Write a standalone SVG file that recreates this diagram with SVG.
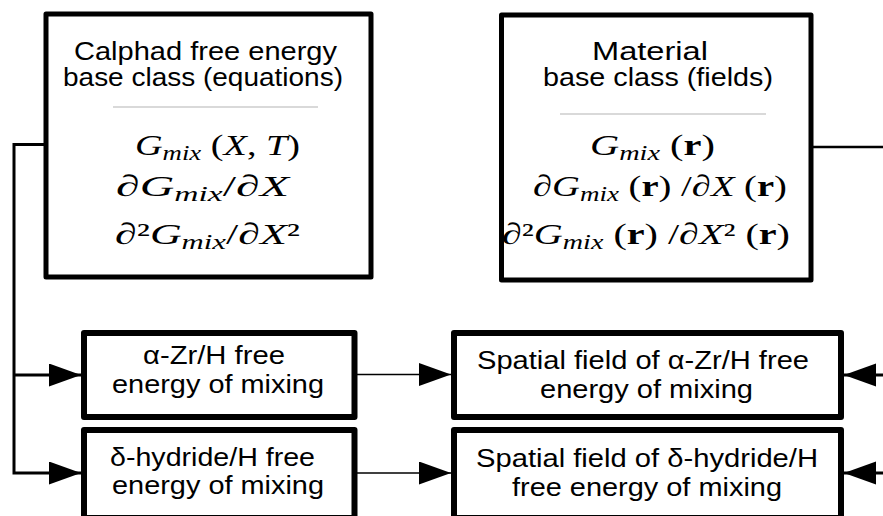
<svg xmlns="http://www.w3.org/2000/svg" width="883" height="516" viewBox="0 0 883 516">
<style>
.box{fill:#fff;stroke:#000;stroke-linejoin:round}
.t{font-family:"Liberation Sans",Arial,sans-serif;font-size:25.5px;fill:#000}
.m{font-family:"Liberation Serif","Times New Roman",serif;font-size:30px;fill:#000}
.i{font-style:italic}
.b{font-weight:bold}
.sep{stroke:#cccccc;stroke-width:1.5}
.c{fill:none;stroke:#000}
</style>
<defs>
<marker id="ah" markerUnits="userSpaceOnUse" markerWidth="32" markerHeight="24" refX="32" refY="11.5" orient="auto">
<path d="M0,0 L32,11.5 L0,23 z" fill="#000"/>
</marker>
</defs>
<g id="connectors">
<path class="c" stroke-width="3" d="M46,144.5 H14 V473 H81" marker-end="url(#ah)"/>
<path class="c" stroke-width="3" d="M14,375 H81" marker-end="url(#ah)"/>
<path class="c" stroke-width="1.5" d="M357,374.5 H451" marker-end="url(#ah)"/>
<path class="c" stroke-width="1.5" d="M357,473 H451" marker-end="url(#ah)"/>
<path class="c" stroke-width="3" d="M883,375 H844" marker-end="url(#ah)"/>
<path class="c" stroke-width="3" d="M883,473 H844" marker-end="url(#ah)"/>
<path class="c" stroke-width="2.5" d="M812,147 H883"/>
</g>
<g id="calphad">
<rect class="box" x="46" y="14" width="325" height="263" stroke-width="5"/>
<text class="t" x="74" y="60" textLength="263" lengthAdjust="spacingAndGlyphs">Calphad free energy</text>
<text class="t" x="63" y="86" textLength="280" lengthAdjust="spacingAndGlyphs">base class (equations)</text>
<line class="sep" x1="113" y1="107" x2="318" y2="107"/>
<text class="m" x="135" y="155" textLength="165" lengthAdjust="spacingAndGlyphs"><tspan class="i">G</tspan><tspan class="i" font-size="21" dy="5">mix</tspan><tspan dy="-5"> (</tspan><tspan class="i">X</tspan>, <tspan class="i">T</tspan>)</text>
<text class="m" x="116" y="196" textLength="173" lengthAdjust="spacingAndGlyphs">∂<tspan class="i">G</tspan><tspan class="i" font-size="21" dy="5">mix</tspan><tspan dy="-5">/∂</tspan><tspan class="i">X</tspan></text>
<text class="m" x="115" y="244" textLength="185" lengthAdjust="spacingAndGlyphs">∂²<tspan class="i">G</tspan><tspan class="i" font-size="21" dy="5">mix</tspan><tspan dy="-5">/∂</tspan><tspan class="i">X</tspan>²</text>
</g>
<g id="material">
<rect class="box" x="501.5" y="15" width="309.5" height="265" stroke-width="5"/>
<text class="t" x="592" y="60" textLength="116" lengthAdjust="spacingAndGlyphs">Material</text>
<text class="t" x="543" y="86" textLength="230" lengthAdjust="spacingAndGlyphs">base class (fields)</text>
<line class="sep" x1="560" y1="114" x2="766" y2="114"/>
<text class="m" x="590" y="155" textLength="125" lengthAdjust="spacingAndGlyphs"><tspan class="i">G</tspan><tspan class="i" font-size="21" dy="5">mix</tspan><tspan dy="-5"> (</tspan><tspan class="b">r</tspan>)</text>
<text class="m" x="533" y="196" textLength="254" lengthAdjust="spacingAndGlyphs">∂<tspan class="i">G</tspan><tspan class="i" font-size="21" dy="5">mix</tspan><tspan dy="-5"> (</tspan><tspan class="b">r</tspan>) /∂<tspan class="i">X</tspan> (<tspan class="b">r</tspan>)</text>
<text class="m" x="502" y="244" textLength="288" lengthAdjust="spacingAndGlyphs">∂²<tspan class="i">G</tspan><tspan class="i" font-size="21" dy="5">mix</tspan><tspan dy="-5"> (</tspan><tspan class="b">r</tspan>) /∂<tspan class="i">X</tspan>² (<tspan class="b">r</tspan>)</text>
</g>
<g id="alpha">
<rect class="box" x="84" y="333" width="270.5" height="84" stroke-width="6"/>
<text class="t" x="143" y="364" textLength="142" lengthAdjust="spacingAndGlyphs">α-Zr/H free</text>
<text class="t" x="112" y="393" textLength="212" lengthAdjust="spacingAndGlyphs">energy of mixing</text>
</g>
<g id="delta">
<rect class="box" x="84" y="430" width="270.5" height="88" stroke-width="6"/>
<text class="t" x="110" y="466" textLength="205" lengthAdjust="spacingAndGlyphs">δ-hydride/H free</text>
<text class="t" x="112" y="494" textLength="212" lengthAdjust="spacingAndGlyphs">energy of mixing</text>
</g>
<g id="spatial-alpha">
<rect class="box" x="454" y="333" width="387" height="84" stroke-width="6"/>
<text class="t" x="477" y="369" textLength="332" lengthAdjust="spacingAndGlyphs">Spatial field of α-Zr/H free</text>
<text class="t" x="540" y="398" textLength="213" lengthAdjust="spacingAndGlyphs">energy of mixing</text>
</g>
<g id="spatial-delta">
<rect class="box" x="454" y="430" width="387" height="88" stroke-width="6"/>
<text class="t" x="476" y="467" textLength="342" lengthAdjust="spacingAndGlyphs">Spatial field of δ-hydride/H</text>
<text class="t" x="512" y="496" textLength="270" lengthAdjust="spacingAndGlyphs">free energy of mixing</text>
</g>
</svg>
